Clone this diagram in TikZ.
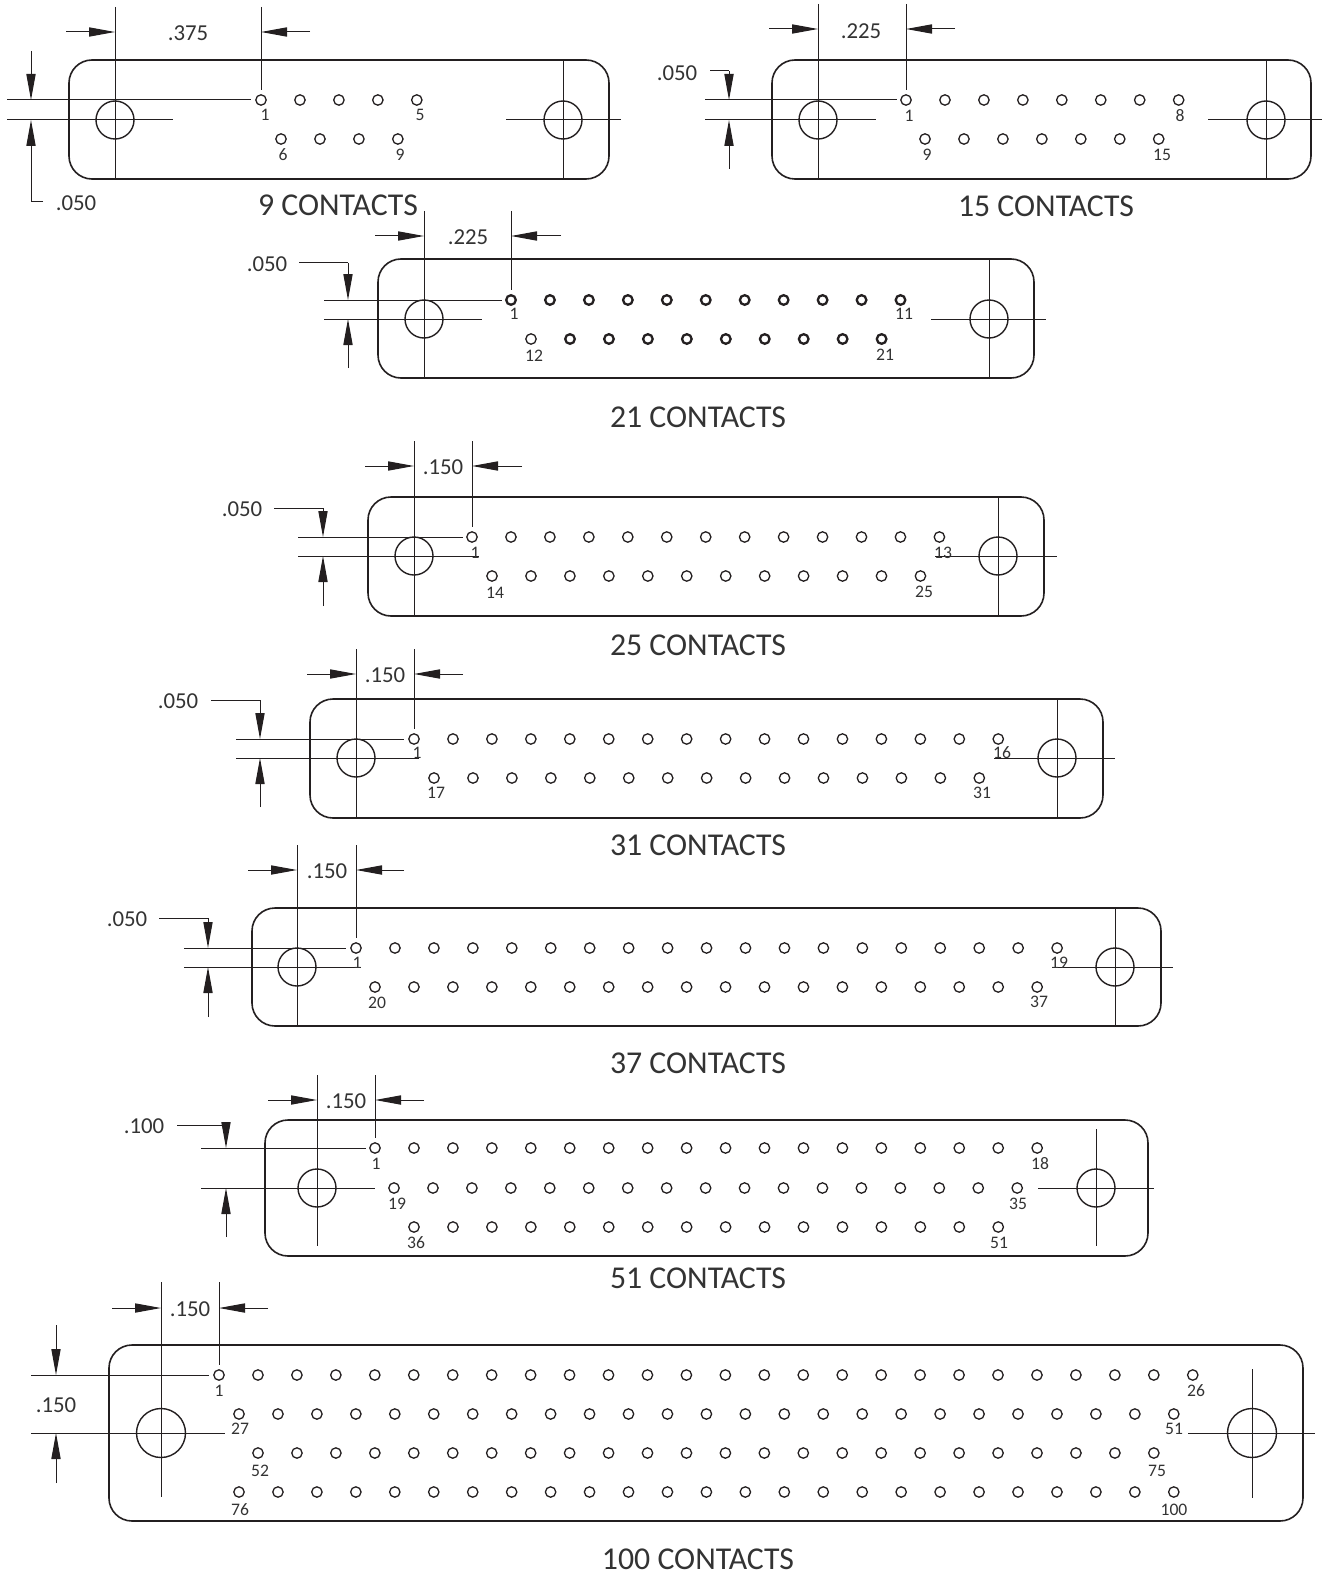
\documentclass[tikz,border=0pt]{standalone}
\usepackage{fontspec}
\setmainfont{Carlito}
\usetikzlibrary{arrows.meta}
\definecolor{ink}{HTML}{231F20}
\definecolor{inktext}{HTML}{333333}
\begin{document}
\begin{tikzpicture}[
x=0.5pt, y=-0.5pt,
body/.style = {draw=ink, line width=0.8pt, rounded corners=11.5pt},
hole/.style = {draw=ink, line width=0.7pt},
extline/.style = {draw=ink, line width=0.5pt},
dimarrow/.style = {draw=ink, line width=0.5pt, -{Triangle[length=13pt,width=4.6pt,fill=ink]}},
pin/.style = {circle, draw=ink, line width=0.65pt, minimum size=5.2pt,
            inner sep=0pt, outer sep=0pt},
pinbold/.style = {pin, line width=1.15pt, minimum size=4.8pt},
pinlabel/.style = {text=inktext, font=\fontsize{8.8}{10}\selectfont, inner sep=0pt},
dimlabel/.style = {text=inktext, font=\fontsize{11.4}{13}\selectfont, inner sep=0pt},
titlelabel/.style = {text=inktext, font=\fontsize{15.9}{18}\selectfont, inner sep=0pt}
                ]
    \useasboundingbox (0,0) rectangle (1322,1573);
    \def\pitch{38.95}
    \foreach \xa/\xb/\ya/\yb in {69/609/60/179, 772/1311/60/179, 378/1034/259/378, 368/1044/497/616, 310/1103/699/818, 252/1161/908/1026, 265/1148/1120/1256, 109/1303/1345/1521}
        \draw[body] (\xa,\ya) rectangle (\xb,\yb);
    \foreach \x/\y/\r in {115/120/19, 563/120/19, 818/120/19, 1266/120/19, 424/319/19, 989/319/19, 414/556/19, 998/556/19, 356/758/19, 1057/758/19, 297/967/19, 1115/967/19, 317/1188/19, 1096/1188/19, 161/1433/24.5, 1252/1433/24.5}
        \draw[hole] (\x,\y) circle [radius=\r];
    % horizontal center and extension lines
    \foreach \xa/\xb/\y in {7/251/100, 7/173/120, 506/621/120,
                            705/897/100, 705/876/120, 1208/1322/120,
                            324/502/300, 324/482/319, 931/1046/319,
                            298/463/537, 298/479/556, 935/1057/556,
                            236/404/739, 236/419/758, 994/1115/758,
                            184/346/948, 184/361/967, 1052/1173/967,
                            201/366/1148, 201/375/1188, 1038/1154/1188,
                            31/209/1375, 31/225/1433, 1188/1315/1433}
        \draw[extline] (\xa,\y) -- (\xb,\y);
    % vertical center and extension lines
    \foreach \x/\ya/\yb in {115/7/179, 261/7/90, 563/60/179,
                            818/4/179, 906/4/90, 1266/60/179,
                            424/211/378, 511/211/290, 989/259/378,
                            414/441/616, 472/441/527, 998/497/616,
                            356/649/818, 414/649/729, 1057/699/818,
                            297/845/1026, 356/845/938, 1115/908/1026,
                            317/1075/1246, 375/1075/1138, 1096/1129/1246,
                            161/1282/1497, 219/1282/1365, 1252/1369/1498}
        \draw[extline] (\x,\ya) -- (\x,\yb);
    \foreach \xa/\xb/\y in {43/31/202, 710/729/71, 299/348/263, 274/323/508, 211/260/700, 159/208/918, 177/226/1125}
        \draw[extline] (\xa,\y) -- (\xb,\y);
    \foreach \xa/\xb/\y in {66/115/32, 310/261/32, 769/818/29, 955/906/29, 375/424/236, 561/511/236,
                            365/414/466, 522/472/466, 307/356/674, 463/414/674, 248/297/870, 404/356/870,
                            268/317/1100, 424/375/1100, 112/161/1308, 268/219/1308}
        \draw[dimarrow] (\xa,\y) -- (\xb,\y);
    \foreach \x/\ya/\yb in {31/51/100, 31/202/120, 729/71/100, 729/169/120, 348/263/300, 348/368/319,
                            323/508/537, 323/606/556, 260/700/739, 260/807/758, 208/918/948, 208/1017/967,
                            226/1122/1148, 226/1237/1188, 56/1325/1375, 56/1483/1433}
        \draw[dimarrow] (\x,\ya) -- (\x,\yb);
    % contact rows
    \foreach \x/\y/\n in {261/100/4, 281/139/3, 906/100/7, 925/139/6, 472/537/12, 492/576/11,
                          414/739/15, 434/778/14, 356/948/18, 375/987/17,
                          375/1148/17, 394/1188/16, 414/1227/15,
                          219/1375/25, 239/1414/24, 258/1453/23, 239/1492/24, 531/339/0}
        \foreach \i in {0,...,\n}
            \node[pin] at (\x+\pitch*\i,\y) (p\x-\y-\i) {};
    \foreach \x/\y/\n in {511/300/10, 570/339/8}
        \foreach \i in {0,...,\n}
            \node[pinbold] at (\x+\pitch*\i,\y) (p\x-\y-\i) {};
    \foreach \x/\y/\t in {265/115/1, 420/115/5, 283/155/6, 400/155/9,
                          909/116/1, 1180/116/8, 927/155/9, 1162/155/15,
                          514/314/1, 904/314/11, 534/356/12, 885/355/21,
                          475/553/1, 943/553/13, 495/593/14, 924/592/25,
                          417/753/1, 1002/753/16, 436/793/17, 982/793/31,
                          357/963/1, 1059/963/19, 377/1003/20, 1039/1002/37,
                          376/1164/1, 1040/1164/18, 397/1204/19, 1018/1204/35, 416/1243/36, 999/1243/51,
                          219/1391/1, 1196/1391/26, 240/1429/27, 1174/1429/51,
                          260/1471/52, 1157/1471/75, 240/1510/76, 1174/1510/100}
        \node[pinlabel] at (\x,\y) (n\x-\y) {\t};
    \foreach \x/\y/\t in {188/33/.375, 76/203/.050, 861/31/.225, 677/73/.050,
                          468/237/.225, 267/264/.050, 443/467/.150, 242/509/.050,
                          385/675/.150, 178/701/.050, 327/871/.150, 127/919/.050,
                          346/1101/.150, 144/1126/.100, 190/1309/.150, 56/1405/.150}
        \node[dimlabel] at (\x,\y) (d\x-\y) {\t};
    \foreach \x/\y/\t in {338/205/9, 1046/206/15, 698/417/21, 698/645/25, 698/845/31, 698/1063/37, 698/1278/51, 698/1559/100}
        \node[titlelabel] at (\x,\y) (t\t) {\t\ CONTACTS};
\end{tikzpicture}
\end{document}
